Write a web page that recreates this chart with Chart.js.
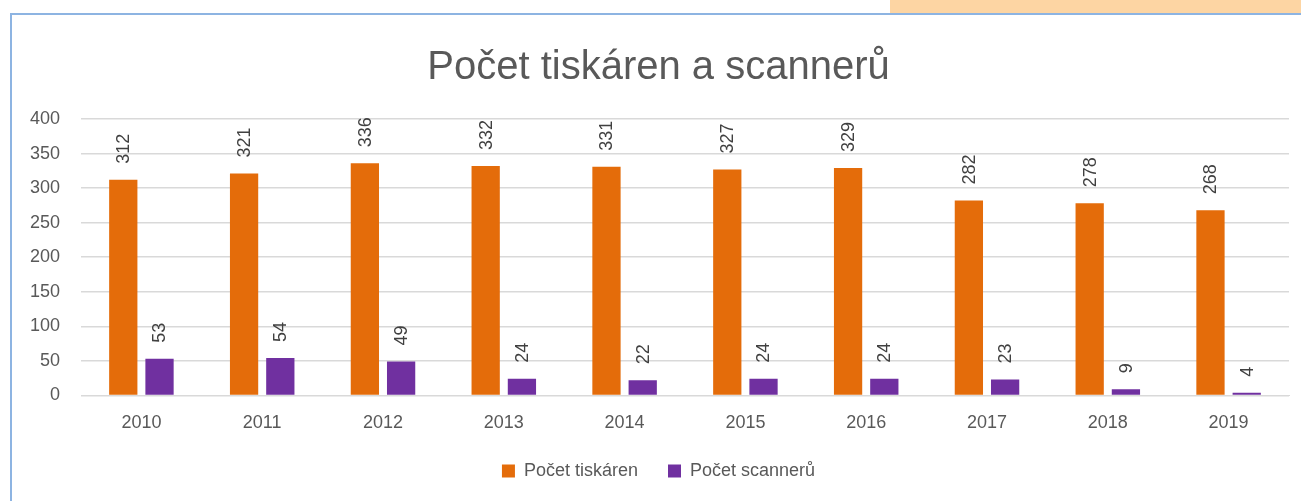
<!DOCTYPE html>
<html>
<head>
<meta charset="utf-8">
<script src="https://cdn.jsdelivr.net/npm/chart.js@4.4.0/dist/chart.umd.min.js"></script>
<style>
  html, body { margin: 0; padding: 0; background: #fff; }
  body { width: 1301px; height: 501px; position: relative; overflow: hidden; }
  #tab { position: absolute; left: 890px; top: 0; width: 411px; height: 13px; background: #fdd5a3; }
  #frame { position: absolute; left: 10px; top: 13px; width: 1291px; height: 488px;
           border-left: 2px solid #8db4e2; border-top: 2px solid #8db4e2; box-sizing: border-box; }
  #wrap { position: absolute; left: 28px; top: 15px; width: 1273px; height: 486px; }
</style>
</head>
<body>
<div id="tab"></div>
<div id="frame"></div>
<div id="wrap"><canvas id="chart"></canvas></div>
<script>
// data
const years = ['2010', '2011', '2012', '2013', '2014', '2015', '2016', '2017', '2018', '2019'];
const tiskarny = [312, 321, 336, 332, 331, 327, 329, 282, 278, 268];
const scannery = [53, 54, 49, 24, 22, 24, 24, 23, 9, 4];
const yTicks = [0, 50, 100, 150, 200, 250, 300, 350, 400];

const textColor = '#595959';
const fontFamily = "'Liberation Sans', Arial, sans-serif";

// popisky hodnot otocene o 90 stupnu nad sloupci
const rotatedLabels = {
    id: 'rotatedLabels',
    afterDatasetsDraw(chart) {
        const ctx = chart.ctx;
        chart.data.datasets.forEach((ds, i) => {
            chart.getDatasetMeta(i).data.forEach((bar, j) => {
                ctx.save();
                ctx.translate(bar.x + 1, bar.y - 16);
                ctx.rotate(-Math.PI / 2);
                ctx.font = '18px ' + fontFamily;
                ctx.fillStyle = '#404040';
                ctx.textAlign = 'left';
                ctx.textBaseline = 'middle';
                ctx.fillText(String(ds.data[j]), 0, 0);
                ctx.restore();
            });
        });
    }
};

new Chart(document.getElementById('chart').getContext('2d'), {
    type: 'bar',
    data: {
        labels: years,
        datasets: [{
            label: 'Počet tiskáren',
            data: tiskarny,
            backgroundColor: '#e46c0a',
            categoryPercentage: 0.6,
            barPercentage: 0.78
        }, {
            label: 'Počet scannerů',
            data: scannery,
            backgroundColor: '#7030a0',
            categoryPercentage: 0.6,
            barPercentage: 0.78
        }]
    },
    options: {
        responsive: true,
        maintainAspectRatio: false,
        animation: false,
        layout: { padding: { left: 0, right: 12, top: 0, bottom: 11 } },
        plugins: {
            title: {
                display: true,
                text: 'Počet tiskáren a scannerů',
                color: textColor,
                font: { family: fontFamily, size: 40, weight: 'normal' },
                padding: { top: 29, bottom: 27 }
            },
            legend: {
                position: 'bottom',
                labels: {
                    color: textColor,
                    font: { family: fontFamily, size: 18 },
                    boxWidth: 13,
                    boxHeight: 13,
                    padding: 30
                }
            },
            tooltip: { enabled: false }
        },
        scales: {
            x: {
                afterFit(scale) { scale.height -= 19; },
                grid: { display: false, drawTicks: false },
                border: { color: '#d9d9d9', width: 1 },
                ticks: { color: textColor, font: { family: fontFamily, size: 18 }, padding: 17 }
            },
            y: {
                min: 0,
                max: 400,
                afterFit(scale) { scale.width = 53; },
                afterBuildTicks(scale) { scale.ticks = yTicks.map(v => ({ value: v })); },
                grid: { color: '#d9d9d9', lineWidth: 1.5, drawTicks: false },
                border: { display: false },
                ticks: { color: textColor, font: { family: fontFamily, size: 18 }, padding: 21 }
            }
        }
    },
    plugins: [rotatedLabels]
});
</script>
</body>
</html>
